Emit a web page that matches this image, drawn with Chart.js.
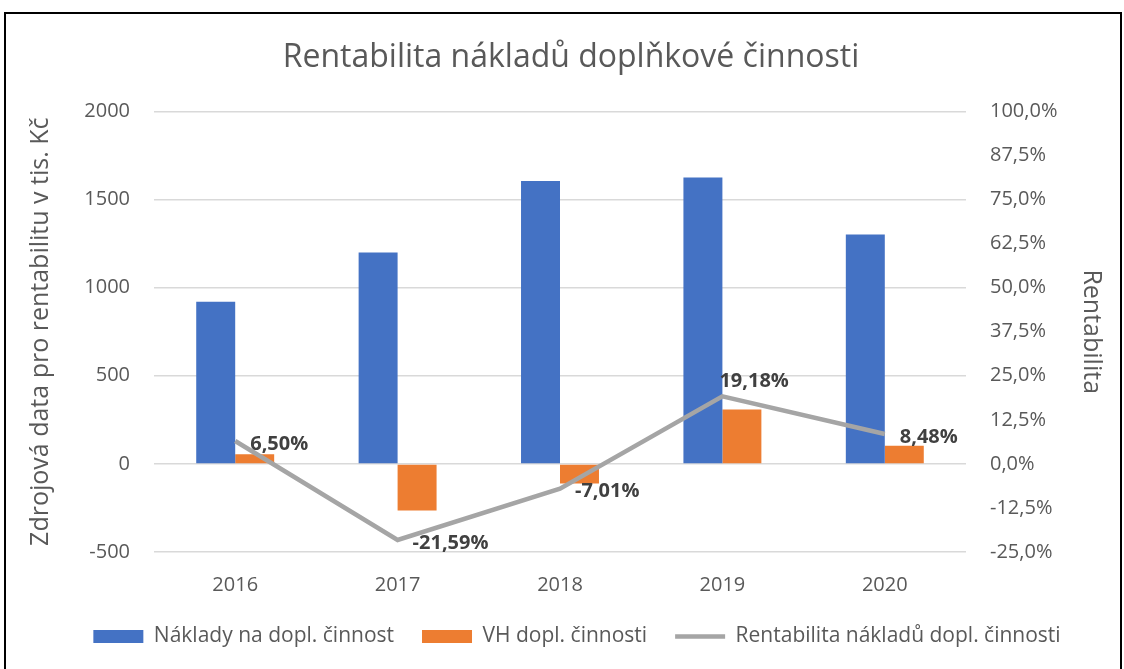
<!DOCTYPE html>
<html>
<head>
<meta charset="utf-8">
<script src="https://cdn.jsdelivr.net/npm/chart.js@4/dist/chart.umd.min.js"></script>
<style>
  html, body { margin: 0; padding: 0; background: #fff; }
  #frame { position: absolute; left: 4px; top: 12px; width: 1114px; height: 700px; border: 2px solid #000; }
  #wrap { position: absolute; left: 0; top: 0; width: 1124px; height: 669px; }
</style>
</head>
<body>
<div id="frame"></div>
<div id="wrap"><canvas id="chart" width="1124" height="669"></canvas></div>
<script>
// data
const years = ['2016', '2017', '2018', '2019', '2020'];
const naklady = [920, 1200, 1605, 1625, 1302];
const vysledek = [54, -265, -112, 308, 103];
const rentabilita = [6.50, -21.59, -7.01, 19.18, 8.48];

const textColor = '#595959';
const fontName = 'Open Sans';

// Draws the percentage labels next to the line points
const lineLabels = {
    id: 'lineLabels',
    afterDatasetsDraw(chart, args, opts) {
        const ctx = chart.ctx;
        const meta = chart.getDatasetMeta(2);
        ctx.save();
        ctx.font = 'bold 20px "' + fontName + '"';
        ctx.fillStyle = '#404040';
        ctx.textBaseline = 'middle';
        ctx.textAlign = 'left';
        meta.data.forEach((pt, i) => {
            const txt = rentabilita[i].toFixed(2).replace('.', ',') + '%';
            if (opts.place[i] === 'above') {
                ctx.fillText(txt, pt.x - 3, pt.y - 15);
            } else {
                ctx.fillText(txt, pt.x + 15, pt.y + 3);
            }
        });
        ctx.restore();
    }
};

// Moves the title and legend boxes a bit, like in the excel original
const nudgeBoxes = {
    id: 'nudgeBoxes',
    afterLayout(chart) {
        const lg = chart.legend;
        lg.left += 15; lg.right += 15;
        lg.top -= 12; lg.bottom -= 12;
        const tb = chart.titleBlock;
        tb.left += 9; tb.right += 9;
    }
};

const ctx = document.getElementById('chart').getContext('2d');
new Chart(ctx, {
    type: 'bar',
    data: {
        labels: years,
        datasets: [{
            label: 'Náklady na dopl. činnost',
            data: naklady,
            backgroundColor: '#4472C4',
            pointStyle: 'rect',
            yAxisID: 'y',
            order: 1
        }, {
            label: 'VH dopl. činnosti',
            data: vysledek,
            backgroundColor: '#ED7D31',
            pointStyle: 'rect',
            yAxisID: 'y',
            order: 1
        }, {
            type: 'line',
            label: 'Rentabilita nákladů dopl. činnosti',
            data: rentabilita,
            borderColor: '#A5A5A5',
            backgroundColor: '#A5A5A5',
            borderWidth: 4.5,
            pointRadius: 0,
            pointStyle: 'line',
            tension: 0,
            yAxisID: 'y1',
            order: 0
        }]
    },
    options: {
        responsive: false,
        animation: false,
        categoryPercentage: 0.48,
        barPercentage: 1,
        layout: { padding: { left: 0, right: 0, top: 0, bottom: 0 } },
        scales: {
            x: {
                grid: { display: false },
                border: { display: false },
                ticks: { color: textColor, font: { family: fontName, size: 20 }, padding: 13 }
            },
            y: {
                position: 'left',
                min: -500,
                max: 2000,
                ticks: {
                    stepSize: 500,
                    color: textColor,
                    font: { family: fontName, size: 20 },
                    padding: 24,
                    callback: v => String(v)
                },
                grid: { color: '#D9D9D9', lineWidth: 1.5, drawTicks: false },
                border: { display: false },
                title: {
                    display: true,
                    text: 'Zdrojová data pro rentabilitu v tis. Kč',
                    color: textColor,
                    font: { family: fontName, size: 25 },
                    padding: { top: 26 }
                },
                afterFit(scale) { scale.width = 154; }
            },
            y1: {
                position: 'right',
                min: -25,
                max: 100,
                ticks: {
                    stepSize: 12.5,
                    color: textColor,
                    font: { family: fontName, size: 20 },
                    padding: 24,
                    callback: v => v.toFixed(1).replace('.', ',') + '%'
                },
                grid: { display: false, drawTicks: false },
                border: { display: false },
                title: {
                    display: true,
                    text: 'Rentabilita',
                    color: textColor,
                    font: { family: fontName, size: 25 },
                    padding: { top: 18 }
                },
                afterFit(scale) { scale.width = 158; }
            }
        },
        plugins: {
            title: {
                display: true,
                text: 'Rentabilita nákladů doplňkové činnosti',
                color: textColor,
                font: { family: fontName, size: 32, weight: 'normal' },
                padding: { top: 39, bottom: 34 }
            },
            legend: {
                position: 'bottom',
                labels: {
                    usePointStyle: true,
                    pointStyleWidth: 50,
                    boxHeight: 13,
                    padding: 28,
                    color: textColor,
                    font: { family: fontName, size: 21 },
                    sort: (a, b) => a.datasetIndex - b.datasetIndex
                }
            },
            tooltip: { enabled: false },
            lineLabels: { place: ['right', 'right', 'right', 'above', 'right'] }
        }
    },
    plugins: [lineLabels, nudgeBoxes]
});
</script>
</body>
</html>
